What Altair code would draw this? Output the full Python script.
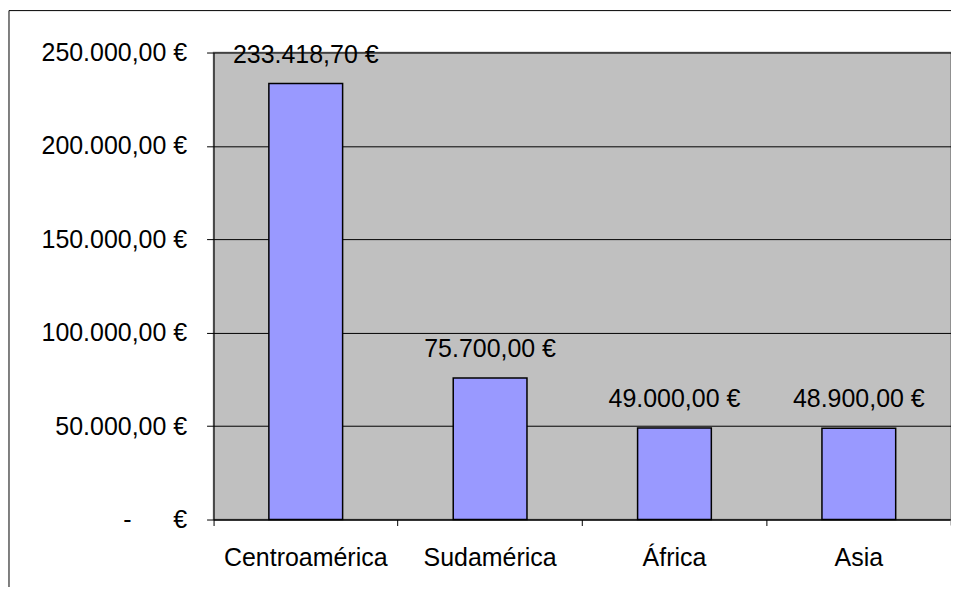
import altair as alt
import pandas as pd

regions = ["Centroamérica", "Sudamérica", "África", "Asia"]
values = [233418.70, 75700.00, 49000.00, 48900.00]
y_ticks = [0, 50000, 100000, 150000, 200000, 250000]
y_tick_labels = [
    "-\u00a0\u00a0\u00a0\u00a0\u00a0\u00a0€",
    "50.000,00 €",
    "100.000,00 €",
    "150.000,00 €",
    "200.000,00 €",
    "250.000,00 €",
]


def eur(v):
    s = f"{v:,.2f}"
    return s.replace(",", "X").replace(".", ",").replace("X", ".") + " €"


bar_labels = [eur(v) for v in values]

df = pd.DataFrame({"region": regions, "value": values, "label": bar_labels})

W, H = 739, 468
FONT = "Liberation Sans"
FS = 25

label_array = "[" + ",".join("'" + s + "'" for s in y_tick_labels) + "]"

x_enc = alt.X(
    "region:N",
    sort=regions,
    scale=alt.Scale(paddingInner=0, paddingOuter=0),
    axis=alt.Axis(
        title=None,
        labelAngle=0,
        bandPosition=0,
        tickSize=6,
        tickColor="black",
        domainColor="black",
        labelColor="black",
        labelFont=FONT,
        labelFontSize=FS,
        labelBaseline="alphabetic",
        labelPadding=40,
        grid=False,
    ),
)

y_enc = alt.Y(
    "value:Q",
    scale=alt.Scale(domain=[0, 250000], nice=False),
    axis=alt.Axis(
        title=None,
        values=y_ticks,
        labelExpr=label_array + "[round(datum.value / 50000)]",
        tickSize=7,
        tickColor="black",
        domainColor="black",
        labelColor="black",
        labelFont=FONT,
        labelFontSize=FS,
        labelPadding=20,
        labelBaseline="middle",
        grid=True,
        gridColor="black",
        gridWidth=1,
        gridOpacity=1,
    ),
)

border = alt.Chart(pd.DataFrame({"a": [0]})).mark_rect(
    filled=False, stroke="black", strokeWidth=1
).encode(
    x=alt.value(-205),
    x2=alt.value(W + 60),
    y=alt.value(-42),
    y2=alt.value(H + 100),
)

base = alt.Chart(df)

bars = base.mark_bar(
    width={"band": 0.4}, color="#9999FF", stroke="black", strokeWidth=1.5
).encode(x=x_enc, y=y_enc)

texts = base.mark_text(
    font=FONT, fontSize=FS, color="black", baseline="alphabetic", dy=-21
).encode(x=alt.X("region:N", sort=regions), y="value:Q", text="label:N")

right_tick = alt.Chart(pd.DataFrame({"a": [0]})).mark_rule(
    color="#808080", strokeWidth=1
).encode(x=alt.value(W), y=alt.value(H), y2=alt.value(H + 6))

chart = (
    alt.layer(border, bars, texts, right_tick)
    .properties(
        width=W,
        height=H,
        autosize=alt.AutoSizeParams(type="none"),
        padding={"left": 206, "top": 44, "right": 0, "bottom": 67},
        background="white",
    )
    .configure_view(fill="#C0C0C0", stroke="#808080", strokeWidth=1.5)
)

chart.save("out.html", embed_options={"renderer": "svg", "actions": False})
